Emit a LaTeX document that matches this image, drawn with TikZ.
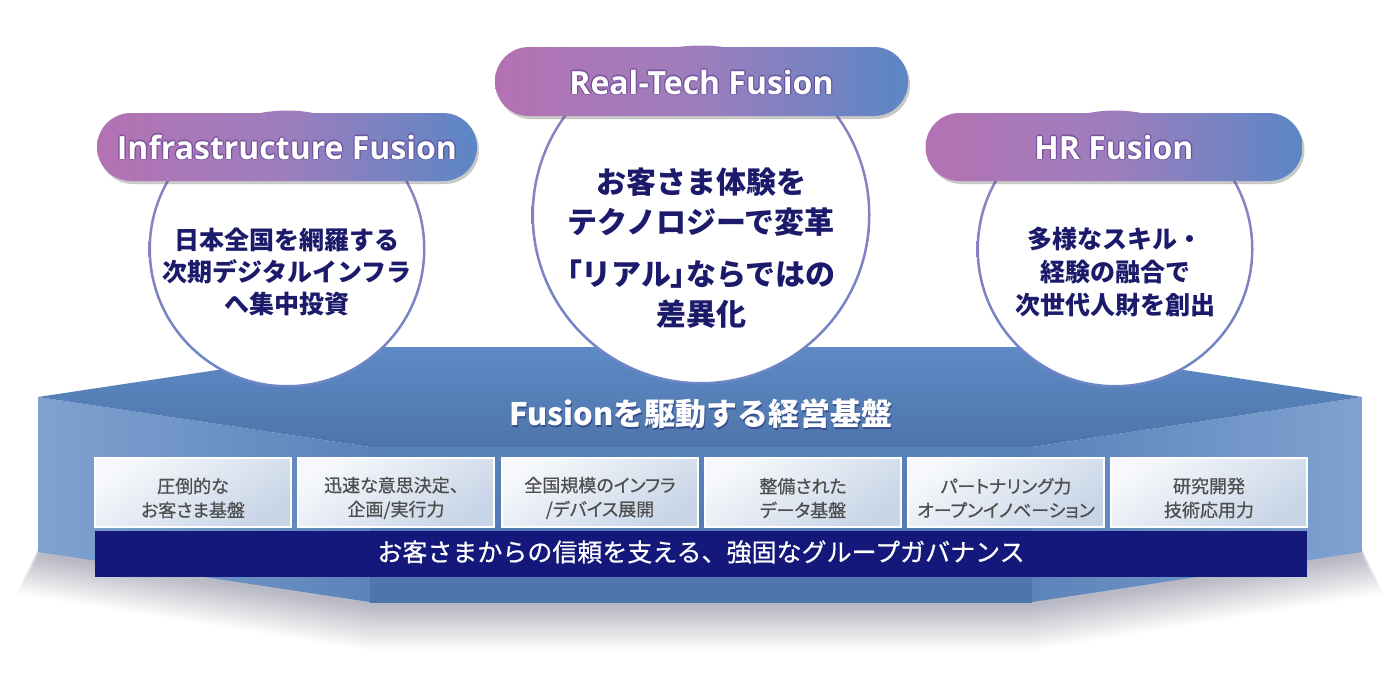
\documentclass[tikz,border=0pt]{standalone}
\usepackage{fontspec}
\usetikzlibrary{shadows,calc}
\newfontfamily\jp{Noto Sans CJK JP}
\newfontfamily\jpm{Noto Sans CJK JP}[FakeBold=0.6]
\newfontfamily\jpp{Noto Sans CJK JP}[RawFeature=+palt, FakeBold=0.6]
\newfontfamily\jppb{Noto Sans CJK JP}[RawFeature=+palt]
\newfontfamily\pillfont{Open Sans}
\definecolor{navytxt}{HTML}{1B1A6B}
\definecolor{ringtop}{HTML}{A27BBE}
\definecolor{ringbot}{HTML}{6B86C6}
\definecolor{pillLc}{HTML}{B472B3}
\definecolor{pillMc}{HTML}{9D7EBD}
\definecolor{pillRc}{HTML}{5B86C5}
\definecolor{glowc}{HTML}{5A3A8C}
\definecolor{topA}{HTML}{5D8AC5}
\definecolor{topB}{HTML}{4E75AA}
\definecolor{sideL}{HTML}{7FA2D0}
\definecolor{sideR}{HTML}{5C83BA}
\definecolor{frontT}{HTML}{5A82BA}
\definecolor{frontB}{HTML}{4D75AC}
\definecolor{boxA}{HTML}{F6F8FB}
\definecolor{boxB}{HTML}{C8D5E7}
\definecolor{boxtxt}{HTML}{4E4E4E}
\definecolor{barc}{HTML}{13187A}
\newcommand{\glowlabel}[3]{%
  \foreach \a in {0,45,...,315} \node[pilltext, text=glowc, opacity=0.3] at ($(#2)+(\a:1.4pt)$) {#3};
  \node[pilltext] (#1) at (#2) {#3};}
\begin{document}
\begin{tikzpicture}[x=1pt,y=-1pt,
  pill/.style={rectangle, rounded corners=34pt, minimum height=68pt, inner sep=0pt,
    left color=pillLc, right color=pillRc, middle color=pillMc,
    drop shadow={shadow xshift=2pt, shadow yshift=-3pt, opacity=0.3, fill=black!70}},
  pilltext/.style={anchor=base, text=white, font=\pillfont\bfseries\fontsize{32}{36}\selectfont, inner sep=0pt},
  bigcircle/.style={circle, fill=white, inner sep=0pt},
  ring/.style={top color=ringtop, bottom color=ringbot, even odd rule},
  circtext/.style={text=navytxt, align=center, inner sep=0pt},
  smallbox/.style={rectangle, draw=white, line width=1.6pt, minimum width=196pt, minimum height=69pt,
    inner sep=0pt, top color=boxA, bottom color=boxB, shading angle=35},
  boxtext/.style={text=boxtxt, align=center, inner sep=0pt, font=\jpp\fontsize{18}{24}\selectfont}
]
\useasboundingbox (0,0) rectangle (1400,672);
\fill[white] (0,0) rectangle (1400,672);

% platform geometry
\coordinate (TL) at (38,397);
\coordinate (TBL) at (370,347);
\coordinate (TBR) at (1032,347);
\coordinate (TR) at (1362,397);
\coordinate (FL) at (370,447);
\coordinate (FR) at (1032,447);
\coordinate (BL) at (38,552);
\coordinate (BML) at (370,602);
\coordinate (BMR) at (1032,602);
\coordinate (BR) at (1362,552);

% soft shadow below the platform
\foreach \i in {0,...,17} {
  \fill[black!80!blue, opacity=0.015] (40,545) -- ({40-1.4*\i},{556+2.2*\i}) -- (370,{606+2.6*\i}) -- (1032,{606+2.6*\i}) -- ({1360+1.4*\i},{556+2.2*\i}) -- (1360,545) -- cycle;
}

% front faces
\shade[left color=sideL, right color=sideR] (TL) -- (FL) -- (BML) -- (BL) -- cycle;
\shade[top color=frontT, bottom color=frontB] (FL) -- (FR) -- (BMR) -- (BML) -- cycle;
\shade[left color=sideR, right color=sideL] (FR) -- (TR) -- (BR) -- (BMR) -- cycle;
% top face
\shade[top color=topA, bottom color=topB] (TL) -- (TBL) -- (TBR) -- (TR) -- (FR) -- (FL) -- cycle;

% circles
\node[bigcircle, minimum size=274pt] (circL) at (287,249) {};
\shade[ring] (circL.center) circle[radius=138.5pt] (circL.center) circle[radius=136pt];
\node[bigcircle, minimum size=336pt] (circM) at (701,215) {};
\shade[ring] (circM.center) circle[radius=169.5pt] (circM.center) circle[radius=167pt];
\node[bigcircle, minimum size=274pt] (circR) at (1115,249) {};
\shade[ring] (circR.center) circle[radius=138.5pt] (circR.center) circle[radius=136pt];

% circle texts
\node[circtext, font=\jp\bfseries\fontsize{25}{32}\selectfont] (tL) at (287,272) {日本全国を網羅する\\次期デジタルインフラ\\へ集中投資};
\node[circtext, font=\jp\bfseries\fontsize{30}{40}\selectfont] (tM1) at (701,202) {お客さま体験を\\テクノロジーで変革};
\node[circtext, font=\jp\bfseries\fontsize{30}{40}\selectfont] (tM2) at (701,294) {{\jppb\bfseries 「}リアル{\jppb\bfseries 」}ならではの\\差異化};
\node[circtext, font=\jp\bfseries\fontsize{25}{33}\selectfont] (tR) at (1115,272) {多様なスキル・\\経験の融合で\\次世代人財を創出};

% pills
\node[pill, minimum width=380pt] (pillL) at (287,147) {};
\node[pill, minimum width=413pt, minimum height=69pt] (pillM) at (701.5,81.5) {};
\node[pill, minimum width=377pt] (pillR) at (1114,147) {};
\coordinate (bL) at (287,159);
\coordinate (bM) at (701.5,94);
\coordinate (bR) at (1114,159);
\glowlabel{lblL}{bL}{Infrastructure Fusion}
\glowlabel{lblM}{bM}{Real-Tech Fusion}
\glowlabel{lblR}{bR}{HR Fusion}

% title
\node[text=black!70!blue, opacity=0.35, font=\jp\bfseries\fontsize{31}{36}\selectfont, inner sep=0pt] at (702,416) {Fusionを駆動する経営基盤};
\node[text=white, font=\jp\bfseries\fontsize{31}{36}\selectfont, inner sep=0pt] (title) at (701,414) {Fusionを駆動する経営基盤};

% small boxes
\node[smallbox] (b1) at (193,492.5) {};
\node[smallbox] (b2) at (396,492.5) {};
\node[smallbox] (b3) at (600,492.5) {};
\node[smallbox] (b4) at (803,492.5) {};
\node[smallbox] (b5) at (1006,492.5) {};
\node[smallbox] (b6) at (1209,492.5) {};
\node[boxtext] (bt1) at (193,498) {圧倒的な\\お客さま基盤};
\node[boxtext] (bt2) at (396,498) {迅速な意思決定{\jpm 、}\\企画/実行力};
\node[boxtext] (bt3) at (600,498) {全国規模のインフラ\\/デバイス展開};
\node[boxtext] (bt4) at (803,498) {整備された\\データ基盤};
\node[boxtext] (bt5) at (1006,498) {パートナリング力\\オープンイノベーション};
\node[boxtext] (bt6) at (1209,498) {研究開発\\技術応用力};

% governance bar
\node[rectangle, fill=barc, minimum width=1212pt, minimum height=46pt, inner sep=0pt] (bar) at (701,554) {};
\node[text=white, font=\jpm\fontsize{25}{28}\selectfont, inner sep=0pt] (bartext) at (701,552) {お客さまからの信頼を支える、強固なグループガバナンス};
\end{tikzpicture}
\end{document}
